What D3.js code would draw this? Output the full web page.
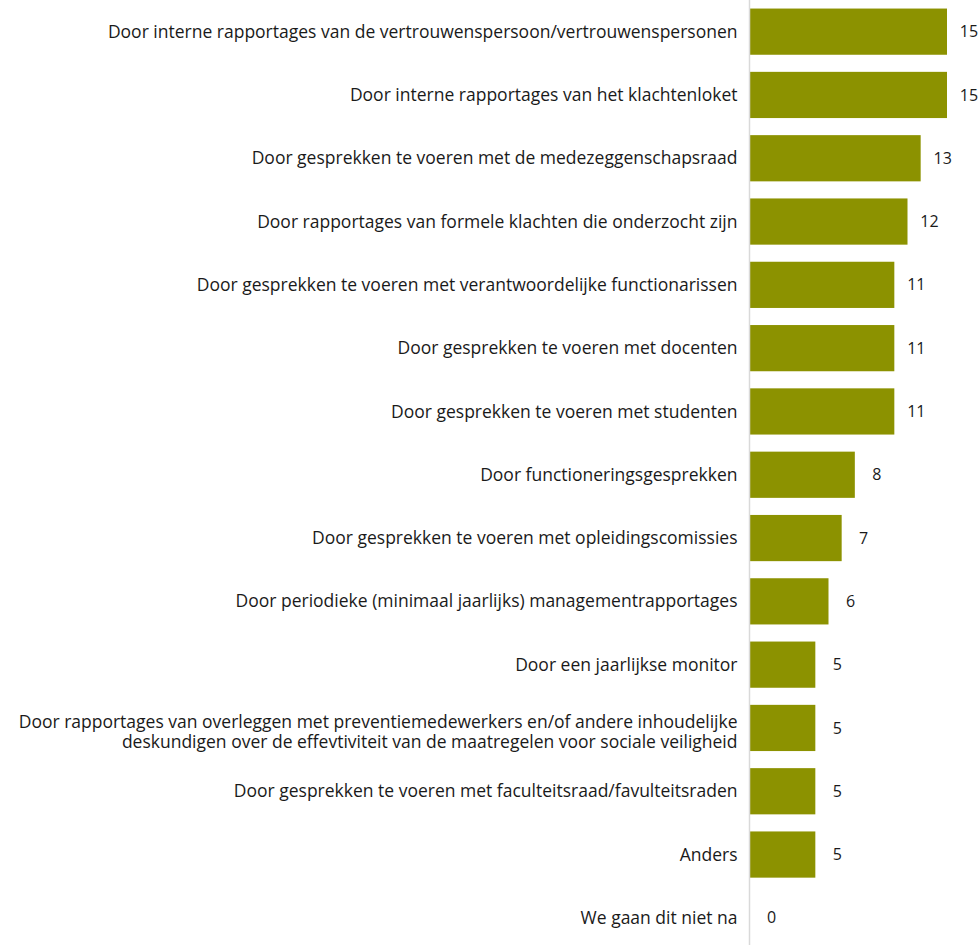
<!DOCTYPE html>
<html>
<head>
<meta charset="utf-8">
<script src="https://cdn.jsdelivr.net/npm/d3@7"></script>
<style>
  body { margin: 0; background: #fff; }
  text { font-family: 'Open Sans', sans-serif; }
</style>
</head>
<body>
<div class="container"></div>
<script>
const categories = [
  ['Door interne rapportages van de vertrouwenspersoon/vertrouwenspersonen'],
  ['Door interne rapportages van het klachtenloket'],
  ['Door gesprekken te voeren met de medezeggenschapsraad'],
  ['Door rapportages van formele klachten die onderzocht zijn'],
  ['Door gesprekken te voeren met verantwoordelijke functionarissen'],
  ['Door gesprekken te voeren met docenten'],
  ['Door gesprekken te voeren met studenten'],
  ['Door functioneringsgesprekken'],
  ['Door gesprekken te voeren met opleidingscomissies'],
  ['Door periodieke (minimaal jaarlijks) managementrapportages'],
  ['Door een jaarlijkse monitor'],
  ['Door rapportages van overleggen met preventiemedewerkers en/of andere inhoudelijke',
   'deskundigen over de effevtiviteit van de maatregelen voor sociale veiligheid'],
  ['Door gesprekken te voeren met faculteitsraad/favulteitsraden'],
  ['Anders'],
  ['We gaan dit niet na']
]
const values = [15, 15, 13, 12, 11, 11, 11, 8, 7, 6, 5, 5, 5, 5, 0]

const width = 980
const height = 947
const x0 = 749.5

const svg = d3.select('.container').append('svg')
  .attr('width', width)
  .attr('height', height)

const keys = categories.map((c, i) => i)

const y = d3.scaleBand()
  .domain(keys)
  .range([0, 949.5])
  .paddingInner(0.27)
  .paddingOuter(0.135)

const x = d3.scaleLinear()
  .domain([0, 15])
  .range([x0, 947])

// bars
svg.selectAll('rect.bar')
  .data(values)
  .enter()
  .append('rect')
  .attr('class', 'bar')
  .attr('x', x(0))
  .attr('y', (d, i) => y(i))
  .attr('width', d => x(d) - x(0))
  .attr('height', y.bandwidth())
  .attr('fill', '#8c9200')

// axis line
const axis = svg.append('g')
  .attr('transform', `translate(${x0},0)`)
  .call(d3.axisLeft(y).tickSize(0).tickFormat(''))
axis.select('.domain')
  .attr('stroke', '#d9d9d9')
  .attr('stroke-width', 1.5)
  .attr('d', `M0,0V${height - 2}`)

// category labels
const labels = svg.selectAll('text.label')
  .data(categories)
  .enter()
  .append('text')
  .attr('class', 'label')
  .attr('x', x0 - 12)
  .attr('y', (d, i) => y(i) + y.bandwidth() / 2)
  .attr('text-anchor', 'end')
  .attr('font-size', 17.5)
  .attr('fill', '#1a1a1a')

labels.each(function(d) {
  const t = d3.select(this)
  d.forEach((line, j) => {
    t.append('tspan')
      .attr('x', x0 - 12)
      .attr('dy', j === 0 ? ((0.35 - (d.length - 1) * 0.35) + 'em') : '1.17em')
      .text(line)
  })
})

// value labels
svg.selectAll('text.value')
  .data(values)
  .enter()
  .append('text')
  .attr('class', 'value')
  .attr('x', d => x(d) + 22)
  .attr('y', (d, i) => y(i) + y.bandwidth() / 2)
  .attr('dy', '0.35em')
  .attr('text-anchor', 'middle')
  .attr('font-size', 16)
  .attr('fill', '#1a1a1a')
  .text(d => d)
</script>
</body>
</html>
